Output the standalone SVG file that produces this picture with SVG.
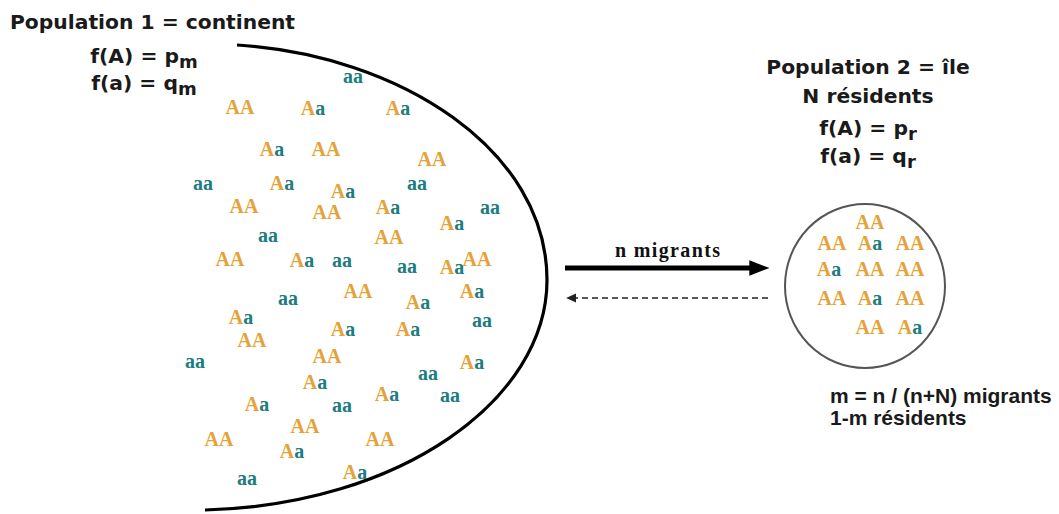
<svg xmlns="http://www.w3.org/2000/svg" width="1059" height="514" viewBox="0 0 1059 514">
<style>
.t{font-family:"DejaVu Sans",Verdana,sans-serif;font-weight:bold;font-size:20.3px;fill:#1a1a1a}
.t2{font-family:"Liberation Sans",Arial,sans-serif;font-weight:bold;font-size:21px;fill:#1a1a1a}
.g{font-family:"Liberation Serif","Times New Roman",serif;font-weight:bold;font-size:20px;text-anchor:middle}
.A{fill:#E5A238}
.a{fill:#1E7C7E}
.lbl{font-family:"Liberation Serif","Times New Roman",serif;font-weight:bold;font-size:20px;fill:#111}
</style>
<defs>
<marker id="head" markerUnits="userSpaceOnUse" markerWidth="20" markerHeight="16" viewBox="0 0 18 14" refX="6" refY="7" orient="auto">
<path d="M0,0 L18,7 L0,14 z" fill="#000"/>
</marker>
<marker id="headS" markerUnits="userSpaceOnUse" markerWidth="10" markerHeight="10" viewBox="0 0 9 8" refX="1" refY="4" orient="auto">
<path d="M0,0 L9,4 L0,8 z" fill="#222"/>
</marker>
</defs>
<rect width="1059" height="514" fill="#fff"/>

<g id="continent">
<path d="M237,45 C400,55 547,150 547,280 C547,400 400,505 205,510" fill="none" stroke="#000" stroke-width="3.2"/>
<text class="t" x="10" y="29">Population 1 = continent</text>
<text class="t" x="144" y="63" text-anchor="middle">f(A) = p<tspan font-size="18" dy="5">m</tspan></text>
<text class="t" x="144" y="90" text-anchor="middle">f(a) = q<tspan font-size="18" dy="5">m</tspan></text>
<g class="g">
<text x="353" y="83"><tspan class="a">aa</tspan></text>
<text x="240" y="114"><tspan class="A">AA</tspan></text>
<text x="313" y="115"><tspan class="A">A</tspan><tspan class="a">a</tspan></text>
<text x="398" y="115"><tspan class="A">A</tspan><tspan class="a">a</tspan></text>
<text x="272" y="156"><tspan class="A">A</tspan><tspan class="a">a</tspan></text>
<text x="326" y="156"><tspan class="A">AA</tspan></text>
<text x="432" y="166"><tspan class="A">AA</tspan></text>
<text x="203" y="190"><tspan class="a">aa</tspan></text>
<text x="282" y="190"><tspan class="A">A</tspan><tspan class="a">a</tspan></text>
<text x="343" y="198"><tspan class="A">A</tspan><tspan class="a">a</tspan></text>
<text x="417" y="190"><tspan class="a">aa</tspan></text>
<text x="244" y="213"><tspan class="A">AA</tspan></text>
<text x="327" y="219"><tspan class="A">AA</tspan></text>
<text x="388" y="214"><tspan class="A">A</tspan><tspan class="a">a</tspan></text>
<text x="490" y="214"><tspan class="a">aa</tspan></text>
<text x="452" y="230"><tspan class="A">A</tspan><tspan class="a">a</tspan></text>
<text x="268" y="242"><tspan class="a">aa</tspan></text>
<text x="389" y="244"><tspan class="A">AA</tspan></text>
<text x="230" y="266"><tspan class="A">AA</tspan></text>
<text x="302" y="267"><tspan class="A">A</tspan><tspan class="a">a</tspan></text>
<text x="342" y="267"><tspan class="a">aa</tspan></text>
<text x="407" y="273"><tspan class="a">aa</tspan></text>
<text x="452" y="274"><tspan class="A">A</tspan><tspan class="a">a</tspan></text>
<text x="477" y="266"><tspan class="A">AA</tspan></text>
<text x="288" y="305"><tspan class="a">aa</tspan></text>
<text x="358" y="298"><tspan class="A">AA</tspan></text>
<text x="418" y="309"><tspan class="A">A</tspan><tspan class="a">a</tspan></text>
<text x="472" y="298"><tspan class="A">A</tspan><tspan class="a">a</tspan></text>
<text x="241" y="324"><tspan class="A">A</tspan><tspan class="a">a</tspan></text>
<text x="482" y="327"><tspan class="a">aa</tspan></text>
<text x="343" y="336"><tspan class="A">A</tspan><tspan class="a">a</tspan></text>
<text x="408" y="336"><tspan class="A">A</tspan><tspan class="a">a</tspan></text>
<text x="252" y="347"><tspan class="A">AA</tspan></text>
<text x="195" y="368"><tspan class="a">aa</tspan></text>
<text x="327" y="363"><tspan class="A">AA</tspan></text>
<text x="472" y="369"><tspan class="A">A</tspan><tspan class="a">a</tspan></text>
<text x="428" y="380"><tspan class="a">aa</tspan></text>
<text x="315" y="389"><tspan class="A">A</tspan><tspan class="a">a</tspan></text>
<text x="387" y="401"><tspan class="A">A</tspan><tspan class="a">a</tspan></text>
<text x="450" y="402"><tspan class="a">aa</tspan></text>
<text x="257" y="411"><tspan class="A">A</tspan><tspan class="a">a</tspan></text>
<text x="342" y="412"><tspan class="a">aa</tspan></text>
<text x="305" y="433"><tspan class="A">AA</tspan></text>
<text x="219" y="446"><tspan class="A">AA</tspan></text>
<text x="380" y="446"><tspan class="A">AA</tspan></text>
<text x="292" y="458"><tspan class="A">A</tspan><tspan class="a">a</tspan></text>
<text x="355" y="479"><tspan class="A">A</tspan><tspan class="a">a</tspan></text>
<text x="247" y="485"><tspan class="a">aa</tspan></text>
</g>
</g>

<g id="island">
<ellipse cx="865" cy="286" rx="80" ry="82" fill="none" stroke="#555" stroke-width="2"/>
<text class="t" x="868" y="74" text-anchor="middle">Population 2 = île</text>
<text class="t" x="868" y="103" text-anchor="middle">N résidents</text>
<text class="t" x="868" y="135" text-anchor="middle">f(A) = p<tspan font-size="18" dy="5">r</tspan></text>
<text class="t" x="868" y="163" text-anchor="middle">f(a) = q<tspan font-size="18" dy="5">r</tspan></text>
<g class="g">
<text x="870" y="229"><tspan class="A">AA</tspan></text>
<text x="832" y="250"><tspan class="A">AA</tspan></text>
<text x="870" y="250"><tspan class="A">A</tspan><tspan class="a">a</tspan></text>
<text x="910" y="250"><tspan class="A">AA</tspan></text>
<text x="829" y="276"><tspan class="A">A</tspan><tspan class="a">a</tspan></text>
<text x="870" y="276"><tspan class="A">AA</tspan></text>
<text x="910" y="276"><tspan class="A">AA</tspan></text>
<text x="832" y="305"><tspan class="A">AA</tspan></text>
<text x="870" y="305"><tspan class="A">A</tspan><tspan class="a">a</tspan></text>
<text x="910" y="305"><tspan class="A">AA</tspan></text>
<text x="870" y="334"><tspan class="A">AA</tspan></text>
<text x="910" y="334"><tspan class="A">A</tspan><tspan class="a">a</tspan></text>
</g>
<text class="t2" x="830" y="403">m = n / (n+N) migrants</text>
<text class="t2" x="830" y="425">1-m résidents</text>
</g>

<g id="connectors">
<line x1="565" y1="268" x2="756" y2="268" stroke="#000" stroke-width="5" marker-end="url(#head)"/>
<text class="lbl" x="615" y="257" textLength="105" lengthAdjust="spacing">n migrants</text>
<line x1="768" y1="298" x2="575" y2="298" stroke="#222" stroke-width="1.6" stroke-dasharray="6 4" marker-end="url(#headS)"/>
</g>
</svg>
